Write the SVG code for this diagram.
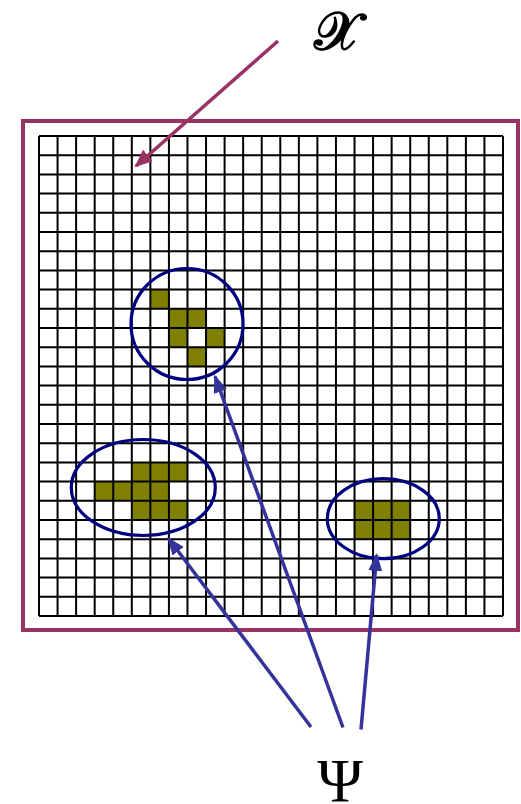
<svg xmlns="http://www.w3.org/2000/svg" width="521" height="804" viewBox="0 0 521 804">
<style>
.cell{fill:#808000}
.grid{fill:none;stroke:#000;stroke-width:2}
.ring{fill:none;stroke:#000080;stroke-width:3.2}
.arrM{stroke:#993366;stroke-width:3.5;fill:none}
.arrB{stroke:#333399;stroke-width:3.5;fill:none}
.lbl{font-family:"Liberation Serif","DejaVu Serif",serif;fill:#000}
</style>
<defs>
<marker id="hM" markerUnits="userSpaceOnUse" markerWidth="20" markerHeight="16" refX="16" refY="7.5" orient="auto">
<path d="M0,0 L18,7.5 L0,15 z" fill="#993366"/>
</marker>
<marker id="hB" markerUnits="userSpaceOnUse" markerWidth="20" markerHeight="16" refX="16" refY="7" orient="auto">
<path d="M0,0 L18,7 L0,14 z" fill="#333399"/>
</marker>
</defs>
<rect id="frame" x="23" y="121" width="495" height="509" fill="none" stroke="#993366" stroke-width="4"/>
<g id="cells">
<rect class="cell" x="150.36" y="289.6" width="18.56" height="19.2"/>
<rect class="cell" x="168.92" y="308.8" width="18.56" height="19.2"/>
<rect class="cell" x="187.48" y="308.8" width="18.56" height="19.2"/>
<rect class="cell" x="168.92" y="328" width="18.56" height="19.2"/>
<rect class="cell" x="206.04" y="328" width="18.56" height="19.2"/>
<rect class="cell" x="187.48" y="347.2" width="18.56" height="19.2"/>
<rect class="cell" x="131.8" y="462.4" width="18.56" height="19.2"/>
<rect class="cell" x="150.36" y="462.4" width="18.56" height="19.2"/>
<rect class="cell" x="168.92" y="462.4" width="18.56" height="19.2"/>
<rect class="cell" x="94.68" y="481.6" width="18.56" height="19.2"/>
<rect class="cell" x="113.24" y="481.6" width="18.56" height="19.2"/>
<rect class="cell" x="131.8" y="481.6" width="18.56" height="19.2"/>
<rect class="cell" x="150.36" y="481.6" width="18.56" height="19.2"/>
<rect class="cell" x="131.8" y="500.8" width="18.56" height="19.2"/>
<rect class="cell" x="150.36" y="500.8" width="18.56" height="19.2"/>
<rect class="cell" x="168.92" y="500.8" width="18.56" height="19.2"/>
<rect class="cell" x="354.52" y="500.8" width="18.56" height="19.2"/>
<rect class="cell" x="373.08" y="500.8" width="18.56" height="19.2"/>
<rect class="cell" x="391.64" y="500.8" width="18.56" height="19.2"/>
<rect class="cell" x="354.52" y="520" width="18.56" height="19.2"/>
<rect class="cell" x="373.08" y="520" width="18.56" height="19.2"/>
<rect class="cell" x="391.64" y="520" width="18.56" height="19.2"/>
</g>
<g id="grid">
<path class="grid" d="M39,136V616M57.56,136V616M76.12,136V616M94.68,136V616M113.24,136V616M131.8,136V616M150.36,136V616M168.92,136V616M187.48,136V616M206.04,136V616M224.6,136V616M243.16,136V616M261.72,136V616M280.28,136V616M298.84,136V616M317.4,136V616M335.96,136V616M354.52,136V616M373.08,136V616M391.64,136V616M410.2,136V616M428.76,136V616M447.32,136V616M465.88,136V616M484.44,136V616M503,136V616
M39,136H503M39,155.2H503M39,174.4H503M39,193.6H503M39,212.8H503M39,232H503M39,251.2H503M39,270.4H503M39,289.6H503M39,308.8H503M39,328H503M39,347.2H503M39,366.4H503M39,385.6H503M39,404.8H503M39,424H503M39,443.2H503M39,462.4H503M39,481.6H503M39,500.8H503M39,520H503M39,539.2H503M39,558.4H503M39,577.6H503M39,596.8H503M39,616H503"/>
</g>
<g id="region1"><ellipse class="ring" cx="187" cy="324" rx="56" ry="55.5"/></g>
<g id="region2"><ellipse class="ring" cx="143.3" cy="487.5" rx="72" ry="48"/></g>
<g id="region3"><ellipse class="ring" cx="383.3" cy="518.7" rx="56" ry="40"/></g>
<g id="connectors">
<line class="arrM" x1="278" y1="41" x2="136" y2="166" marker-end="url(#hM)"/>
<line class="arrB" x1="311" y1="727" x2="168.5" y2="538.5" marker-end="url(#hB)"/>
<line class="arrB" x1="343" y1="727.5" x2="215" y2="376.5" marker-end="url(#hB)"/>
<line class="arrB" x1="361" y1="729.5" x2="376.7" y2="555" marker-end="url(#hB)"/>
</g>
<g id="labelX"><text class="lbl" x="337" y="50" font-size="54" text-anchor="middle" stroke="#000" stroke-width="1.6">𝒳</text></g>
<g id="labelPsi"><text class="lbl" x="340" y="801" font-size="62" text-anchor="middle">Ψ</text></g>
</svg>
